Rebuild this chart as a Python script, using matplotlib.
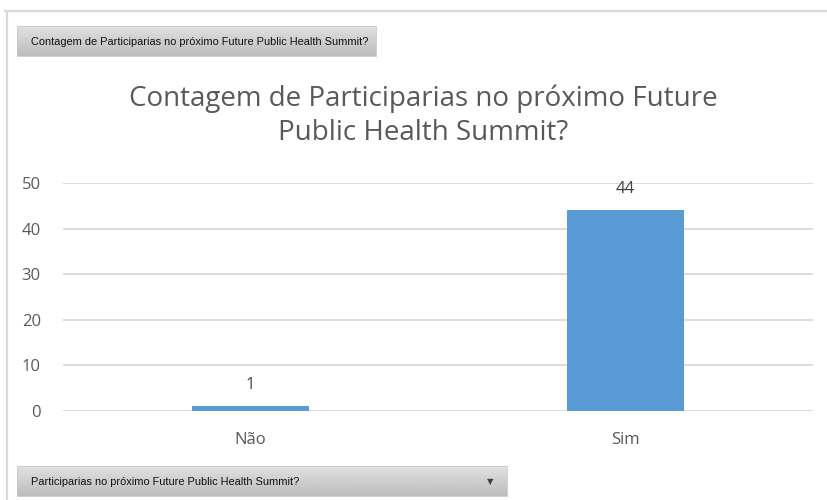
import numpy as np
import matplotlib
matplotlib.use("Agg")
import matplotlib.pyplot as plt
from matplotlib.patches import Rectangle

# data
categories = ["Não", "Sim"]
counts = [1, 44]
yticks = [0, 10, 20, 30, 40, 50]
title = "Contagem de Participarias no próximo Future\nPublic Health Summit?"
top_button = "Contagem de Participarias no próximo Future Public Health Summit?"
bottom_button = "Participarias no próximo Future Public Health Summit?"

W, H = 828, 500
txt = "#595959"
grid = "#d9d9d9"
blue = "#5b9bd5"

fig = plt.figure(figsize=(W / 100, H / 100), dpi=100)
fig.patch.set_facecolor("white")

# overlay in pixel coords for frame + buttons
ov = fig.add_axes([0, 0, 1, 1])
ov.set_xlim(0, W)
ov.set_ylim(H, 0)
ov.axis("off")
ov.plot([5, W], [11, 11], color=grid, lw=1.6)
ov.plot([7, 7], [11, H], color=grid, lw=1.6)

grad = np.linspace(0.88, 0.74, 50).reshape(-1, 1)


def button(x0, x1, y0, y1, label):
    ov.imshow(grad, cmap="gray", vmin=0, vmax=1, aspect="auto",
              extent=(x0, x1, y1, y0), zorder=2)
    ov.add_patch(Rectangle((x0, y0), x1 - x0, y1 - y0, fill=False,
                           edgecolor="#c8c8c8", lw=0.6, zorder=3))
    ov.text(x0 + 14, (y0 + y1) / 2 + 1, label, fontsize=7.9, color="#111111",
            family="Liberation Sans", va="center", ha="left", zorder=4)


button(17, 376, 26, 56, top_button)
button(17, 507, 466, 496, bottom_button)
ov.text(490, 482, "▼", fontsize=6, color="#404040", ha="center", va="center", zorder=4)
ov.set_xlim(0, W)
ov.set_ylim(H, 0)

ov.text(423, 116, title, fontsize=20, color=txt, ha="center", va="center",
        family="Open Sans", linespacing=1.3)

# chart
ax = fig.add_axes([63 / W, 89 / H, 750 / W, 228 / H])
x = np.arange(len(categories))
bars = ax.bar(x, counts, width=0.31, color=blue, zorder=3)
ax.set_xlim(-0.5, len(categories) - 0.5)
ax.set_ylim(0, 50)
ax.set_yticks(yticks)
ax.set_xticks(x)
ax.set_xticklabels(categories)
ax.grid(axis="y", color=grid, lw=1.3, zorder=0)
for s in ax.spines.values():
    s.set_visible(False)
ax.tick_params(length=0, labelsize=12, colors=txt, pad=16)
ax.tick_params(axis="x", pad=15)
for lab in ax.get_xticklabels() + ax.get_yticklabels():
    lab.set_family("Open Sans")
for b, v in zip(bars, counts):
    ax.text(b.get_x() + b.get_width() / 2, v + 3, str(v), ha="center",
            va="bottom", fontsize=12, color="#404040", family="Open Sans")

fig.savefig("out.png", dpi=100)
